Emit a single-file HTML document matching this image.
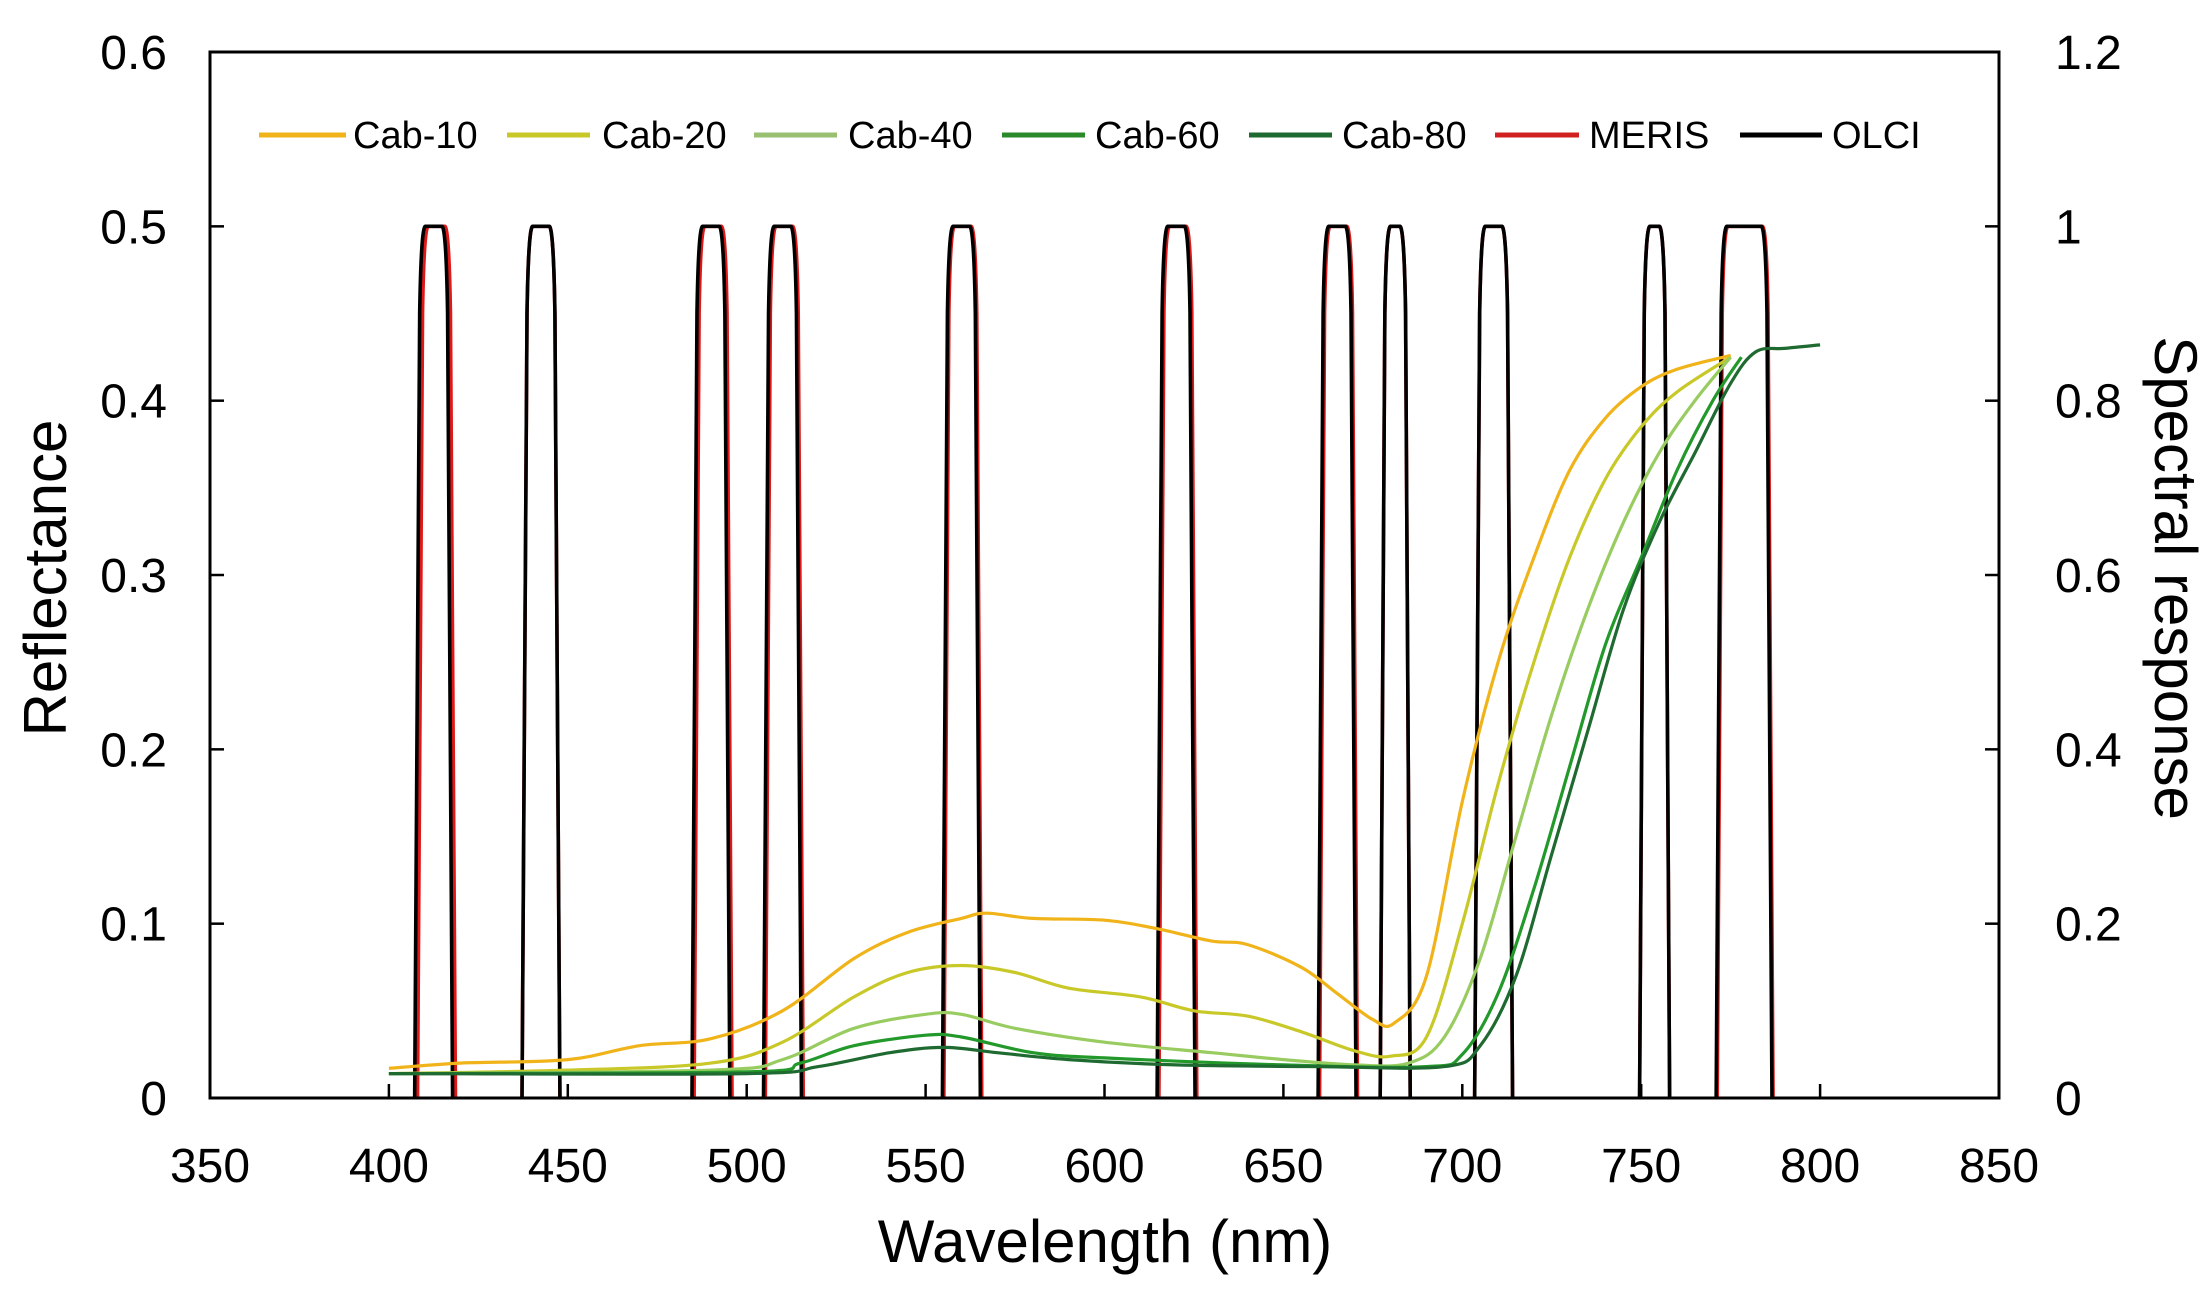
<!DOCTYPE html>
<html><head><meta charset="utf-8"><style>
html,body{margin:0;padding:0;background:#fff;}
svg{display:block;font-family:"Liberation Sans",Arial,sans-serif;}
</style></head><body>
<svg id="s" width="2211" height="1294" viewBox="0 0 2211 1294" xmlns="http://www.w3.org/2000/svg">
<rect width="2211" height="1294" fill="#fff"/>
<g id="plot"></g>
<rect x="210" y="52" width="1789" height="1046" fill="none" stroke="#000" stroke-width="3"/>
<g id="ticks" stroke="#000" stroke-width="2.5"></g>
<g font-size="48" fill="#000">
<g text-anchor="end" id="ly"></g>
<g text-anchor="start" id="ry"></g>
<g text-anchor="middle" id="bx"></g>
</g>
<text x="1105" y="1262" font-size="60" text-anchor="middle">Wavelength (nm)</text>
<text transform="translate(66,578) rotate(-90)" font-size="60" text-anchor="middle">Reflectance</text>
<text transform="translate(2155,578) rotate(90)" font-size="60" text-anchor="middle">Spectral response</text>
<g font-size="38" fill="#000">
<line x1="259" y1="135" x2="346" y2="135" stroke="#f0b41a" stroke-width="5"/><text x="353" y="148">Cab-10</text>
<line x1="507" y1="135" x2="590" y2="135" stroke="#c8c828" stroke-width="5"/><text x="602" y="148">Cab-20</text>
<line x1="754" y1="135" x2="837" y2="135" stroke="#98c070" stroke-width="5"/><text x="848" y="148">Cab-40</text>
<line x1="1002" y1="135" x2="1085" y2="135" stroke="#2a8a2a" stroke-width="5"/><text x="1095" y="148">Cab-60</text>
<line x1="1249" y1="135" x2="1332" y2="135" stroke="#1f6a30" stroke-width="5"/><text x="1342" y="148">Cab-80</text>
<line x1="1495" y1="135" x2="1579" y2="135" stroke="#d02020" stroke-width="5"/><text x="1589" y="148">MERIS</text>
<line x1="1740" y1="135" x2="1822" y2="135" stroke="#000" stroke-width="5"/><text x="1832" y="148">OLCI</text>
</g>
</svg>
<script>
var NS="http://www.w3.org/2000/svg";
function X(w){return 210+(w-350)*1789/500;}
function Y(r){return 1098-r*1743.3;}
function YS(s){return 1098-s*871.65;}
function el(p,t,a,txt){var e=document.createElementNS(NS,t);for(var k in a)e.setAttribute(k,a[k]);if(txt!==undefined)e.textContent=txt;document.getElementById(p).appendChild(e);return e;}
for(var i=0;i<=6;i++){var y=Y(i*0.1);
 if(i>0&&i<6){el("ticks","line",{x1:210,y1:y,x2:224,y2:y});el("ticks","line",{x1:1985,y1:y,x2:1999,y2:y});}
 el("ly","text",{x:167,y:y+17},i==0?"0":(i/10).toFixed(1));
 var r=(i*0.2);el("ry","text",{x:2055,y:y+17},i==0?"0":(i==5?"1":r.toFixed(1)));}
for(var w=350;w<=850;w+=50){var x=X(w);
 if(w>350&&w<850)el("ticks","line",{x1:x,y1:1098,x2:x,y2:1084});
 el("bx","text",{x:x,y:1182},""+w);}
function smooth(pts){var d="M"+pts[0][0]+","+pts[0][1];
 for(var i=0;i<pts.length-1;i++){var p0=pts[i-1]||pts[i],p1=pts[i],p2=pts[i+1],p3=pts[i+2]||p2;
  var c1=[p1[0]+(p2[0]-p0[0])/6,p1[1]+(p2[1]-p0[1])/6],c2=[p2[0]-(p3[0]-p1[0])/6,p2[1]-(p3[1]-p1[1])/6];
  d+=" C"+c1[0].toFixed(1)+","+c1[1].toFixed(1)+" "+c2[0].toFixed(1)+","+c2[1].toFixed(1)+" "+p2[0].toFixed(1)+","+p2[1].toFixed(1);}
 return d;}
function curve(data,col,sw){var pts=[];for(var i=0;i<data.length;i+=2)pts.push([X(data[i]),Y(data[i+1])]);
 el("plot","path",{d:smooth(pts),fill:"none",stroke:col,"stroke-width":sw||3.2,"stroke-linejoin":"round"});}
// bands: center, top half-width, bottom half-width, red offset
var bands=[[412.5,3.5,5.3,0.8],[442.5,3.5,5.3,0],[490,3.5,5.3,0.6],[510,3.5,5.3,0.5],[560,3.5,5.3,0.4],[620,3.5,5.3,0.5],[665,3.5,5.3,0.4],[681.25,2.5,4.2,0],[708.75,3.5,5.3,0],[753.75,2.5,4.2,0],[778.75,6,7.8,0.3]];
function band(c,tw,bw,col,off){c+=off;
 var d="M"+X(c-bw)+","+YS(0)+" L"+X(c-tw-0.4)+","+YS(0.9)+" Q"+X(c-tw)+","+YS(1)+" "+X(c-tw+1.2)+","+YS(1)+
 " L"+X(c+tw-1.2)+","+YS(1)+" Q"+X(c+tw)+","+YS(1)+" "+X(c+tw+0.4)+","+YS(0.9)+" L"+X(c+bw)+","+YS(0);
 el("plot","path",{d:d,fill:"none",stroke:col,"stroke-width":3.6,"stroke-linejoin":"round"});}
bands.forEach(function(b){band(b[0],b[1],b[2],"#e01818",b[3]);});
bands.forEach(function(b){band(b[0],b[1],b[2],"#000",0);});
curve([400,0.017,420,0.02,450,0.022,470,0.03,490,0.034,510,0.05,530,0.08,545,0.095,560,0.103,567,0.106,580,0.103,600,0.102,615,0.097,630,0.09,640,0.088,655,0.075,665,0.06,675,0.045,681,0.043,690,0.07,700,0.17,710,0.25,720,0.31,730,0.36,740,0.39,750,0.408,760,0.418,775,0.426],"#f0b41a");
curve([400,0.014,450,0.016,490,0.02,510,0.032,530,0.058,545,0.072,560,0.076,575,0.072,590,0.063,610,0.058,625,0.05,640,0.047,655,0.038,670,0.027,680,0.024,690,0.035,700,0.1,710,0.18,720,0.25,730,0.31,740,0.355,750,0.385,760,0.405,775,0.425],"#c8c828");
curve([400,0.014,490,0.016,510,0.022,530,0.04,550,0.048,560,0.048,575,0.04,600,0.032,630,0.026,650,0.022,670,0.019,685,0.02,695,0.035,705,0.08,715,0.15,725,0.22,735,0.28,745,0.33,755,0.37,765,0.4,775,0.425],"#98cc60");
curve([400,0.014,500,0.015,515,0.02,530,0.03,550,0.036,560,0.035,580,0.026,600,0.023,650,0.019,690,0.018,700,0.025,710,0.06,720,0.12,730,0.19,740,0.26,750,0.31,760,0.36,770,0.4,778,0.425],"#22992a");
curve([400,0.014,500,0.014,520,0.018,540,0.026,555,0.029,570,0.026,590,0.022,620,0.019,660,0.018,695,0.018,705,0.03,715,0.07,725,0.14,735,0.21,745,0.28,755,0.33,765,0.37,775,0.41,782,0.428,790,0.43,800,0.432],"#1f6a30");
</script>
</body></html>
